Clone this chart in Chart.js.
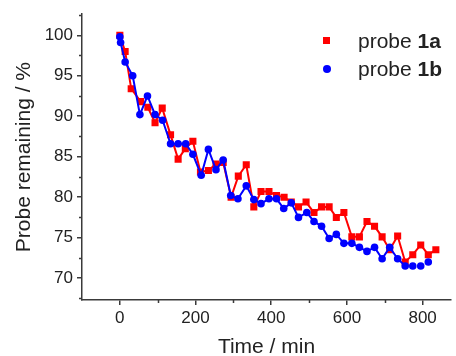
<!DOCTYPE html>
<html>
<head>
<meta charset="utf-8">
<script src="https://cdn.jsdelivr.net/npm/chart.js@4/dist/chart.umd.min.js"></script>
<style>
  html, body { margin: 0; padding: 0; background: #fff; }
  #wrap { position: relative; width: 456px; height: 356px; }
  #legend { position: absolute; left: 320px; top: 27px; font-family: "Liberation Sans", Arial, sans-serif;
            font-size: 21px; line-height: 28px; color: #222; }
  #legend div { position: relative; padding-left: 38px; white-space: nowrap; }
  #legend span.mk { position: absolute; left: 3px; top: 10px; width: 7px; height: 7px; }
</style>
</head>
<body>
<div id="wrap">
  <canvas id="probe-chart" width="456" height="356"></canvas>
  <div id="legend">
    <div><span class="mk" style="background:#ff0000"></span>probe <b>1a</b></div>
    <div><span class="mk" style="background:#0000ff;border-radius:50%;width:8px;height:8px;left:3px;top:10px"></span>probe <b>1b</b></div>
  </div>
</div>
<script>
//
// probe stability chart
//

const timesA = [0, 14, 30, 55, 74, 93, 112, 134, 154, 173, 193, 213, 234, 254, 273, 294, 313, 334, 354, 373,
  394, 414, 434, 453, 472, 492, 513, 533, 553, 572, 592, 613, 633, 653, 673, 693, 713, 734, 754, 774, 795, 815, 835];
const valuesA = [100.0, 98.0, 93.4, 91.8, 91.1, 89.2, 91.0, 87.7, 84.7, 86.0, 86.9, 83.1, 83.3, 84.1, 84.3, 80.0, 82.6, 84.0, 78.8, 80.7,
  80.7, 80.2, 80.0, 79.4, 78.8, 79.4, 78.1, 78.8, 78.8, 77.5, 78.1, 75.1, 75.1, 77.0, 76.4, 75.1, 73.5, 75.2, 72.0, 72.9, 74.1, 72.9, 73.5];

const timesB = [0, 2, 14, 34, 53, 73, 93, 113, 134, 154, 174, 193, 215, 234, 254, 273, 293, 312, 334, 354,
  373, 394, 414, 433, 453, 472, 494, 513, 533, 553, 572, 592, 613, 633, 653, 673, 693, 713, 734, 754, 774, 795, 815];
const valuesB = [99.8, 99.1, 96.7, 95.0, 90.2, 92.5, 90.2, 89.5, 86.6, 86.6, 86.6, 85.3, 82.7, 85.9, 83.4, 84.6, 80.2, 79.8, 81.4, 79.7,
  79.2, 79.8, 79.8, 78.6, 79.3, 77.5, 78.1, 77.0, 76.4, 74.9, 75.4, 74.3, 74.3, 73.8, 73.3, 73.8, 72.4, 73.8, 72.4, 71.5, 71.5, 71.5, 72.0];

const xTicks = [0, 200, 400, 600, 800];
const xMinor = [100, 300, 500, 700];
const yTicks = [70, 75, 80, 85, 90, 95, 100];
const yMinor = [67.5, 72.5, 77.5, 82.5, 87.5, 92.5, 97.5, 102.5];

const AXIS = '#3a3a3a';
const FONT = '"Liberation Sans", Arial, sans-serif';

// blue points after this index are drawn without joining line
const lastJoinedB = timesB.indexOf(754);

const toXY = (xs, ys) => xs.map((x, i) => ({x: x, y: ys[i]}));

const minorTicks = {
  id: 'minorTicks',
  afterDraw(chart) {
    const {ctx, chartArea, scales} = chart;
    ctx.save();
    ctx.strokeStyle = AXIS;
    ctx.lineWidth = 1.5;
    ctx.beginPath();
    xMinor.forEach(v => {
      const px = Math.round(scales.x.getPixelForValue(v)) + 0.5;
      ctx.moveTo(px, chartArea.bottom);
      ctx.lineTo(px, chartArea.bottom + 3);
    });
    yMinor.forEach(v => {
      const py = Math.round(scales.y.getPixelForValue(v)) + 0.5;
      ctx.moveTo(chartArea.left, py);
      ctx.lineTo(chartArea.left - 3, py);
    });
    ctx.stroke();
    ctx.restore();
  }
};

const config = {
  type: 'line',
  data: {
    datasets: [
      {
        label: 'probe 1b',
        data: toXY(timesB, valuesB),
        borderColor: '#0000ff',
        backgroundColor: '#0000ff',
        borderWidth: 2,
        pointStyle: 'circle',
        pointRadius: 3.8,
        pointBorderWidth: 0,
        order: 0,
        segment: {
          borderColor: ctx => ctx.p0DataIndex >= lastJoinedB ? 'rgba(0,0,0,0)' : undefined
        }
      },
      {
        label: 'probe 1a',
        data: toXY(timesA, valuesA),
        borderColor: '#ff0000',
        backgroundColor: '#ff0000',
        borderWidth: 2,
        pointStyle: 'rect',
        pointRadius: 5,
        pointBorderWidth: 0,
        order: 1
      }
    ]
  },
  options: {
    responsive: false,
    animation: false,
    layout: {padding: {left: 12, top: 13, right: 0, bottom: 0}},
    plugins: {
      legend: {display: false},
      tooltip: {enabled: false}
    },
    scales: {
      x: {
        type: 'linear',
        min: -100,
        max: 875,
        afterBuildTicks: s => { s.ticks = xTicks.map(v => ({value: v})); },
        afterFit: s => { s.height = 56; },
        grid: {drawOnChartArea: false, tickLength: 5, color: AXIS, lineWidth: 1.5},
        border: {color: AXIS, width: 1.5},
        ticks: {padding: 3, color: '#222', font: {family: FONT, size: 17}},
        title: {display: true, text: 'Time / min', color: '#222', padding: {top: 0, bottom: -2},
                font: {family: FONT, size: 21, lineHeight: 1}}
      },
      y: {
        type: 'linear',
        min: 67.3,
        max: 102.6,
        afterBuildTicks: s => { s.ticks = yTicks.map(v => ({value: v})); },
        afterFit: s => { s.width = 70; },
        grid: {drawOnChartArea: false, tickLength: 5, color: AXIS, lineWidth: 1.5},
        border: {color: AXIS, width: 1.5},
        ticks: {padding: 4, color: '#222', font: {family: FONT, size: 17}},
        title: {display: true, text: 'Probe remaining / %', color: '#222', padding: {top: 0, bottom: 0},
                font: {family: FONT, size: 21}}
      }
    }
  },
  plugins: [minorTicks]
};

const probeChart = new Chart(document.getElementById('probe-chart'), config);
</script>
</body>
</html>
